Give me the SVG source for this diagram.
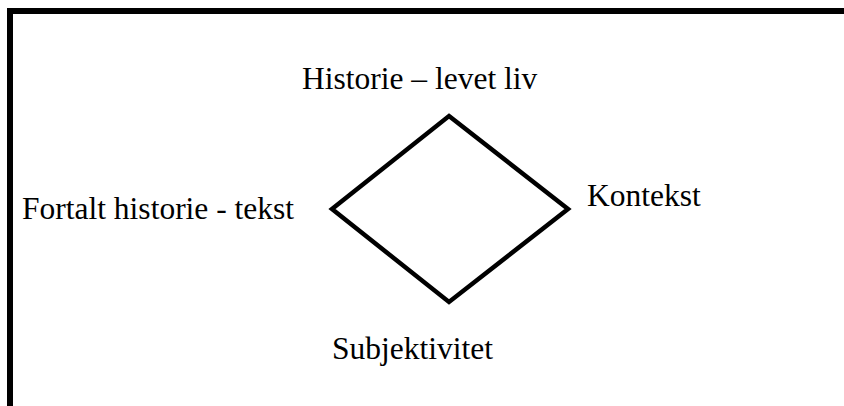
<svg xmlns="http://www.w3.org/2000/svg" width="844" height="406" viewBox="0 0 844 406">
<style>
.lbl{font-family:"Liberation Serif","Times New Roman",serif;font-size:31.5px;fill:#000}
</style>
<rect x="0" y="0" width="844" height="406" fill="#fff"/>
<g id="frame"><rect x="10" y="11" width="900" height="500" fill="none" stroke="#000" stroke-width="6"/></g>
<g id="connectors">
<polygon points="449,116 568,209 449,302 332,209" fill="none" stroke="#000" stroke-width="4.5" stroke-linejoin="miter"/>
</g>
<g id="top"><text class="lbl" x="302" y="89">Historie – levet liv</text></g>
<g id="left"><text class="lbl" x="22" y="219">Fortalt historie - tekst</text></g>
<g id="right"><text class="lbl" x="587" y="206">Kontekst</text></g>
<g id="bottom"><text class="lbl" x="332" y="359">Subjektivitet</text></g>
</svg>
